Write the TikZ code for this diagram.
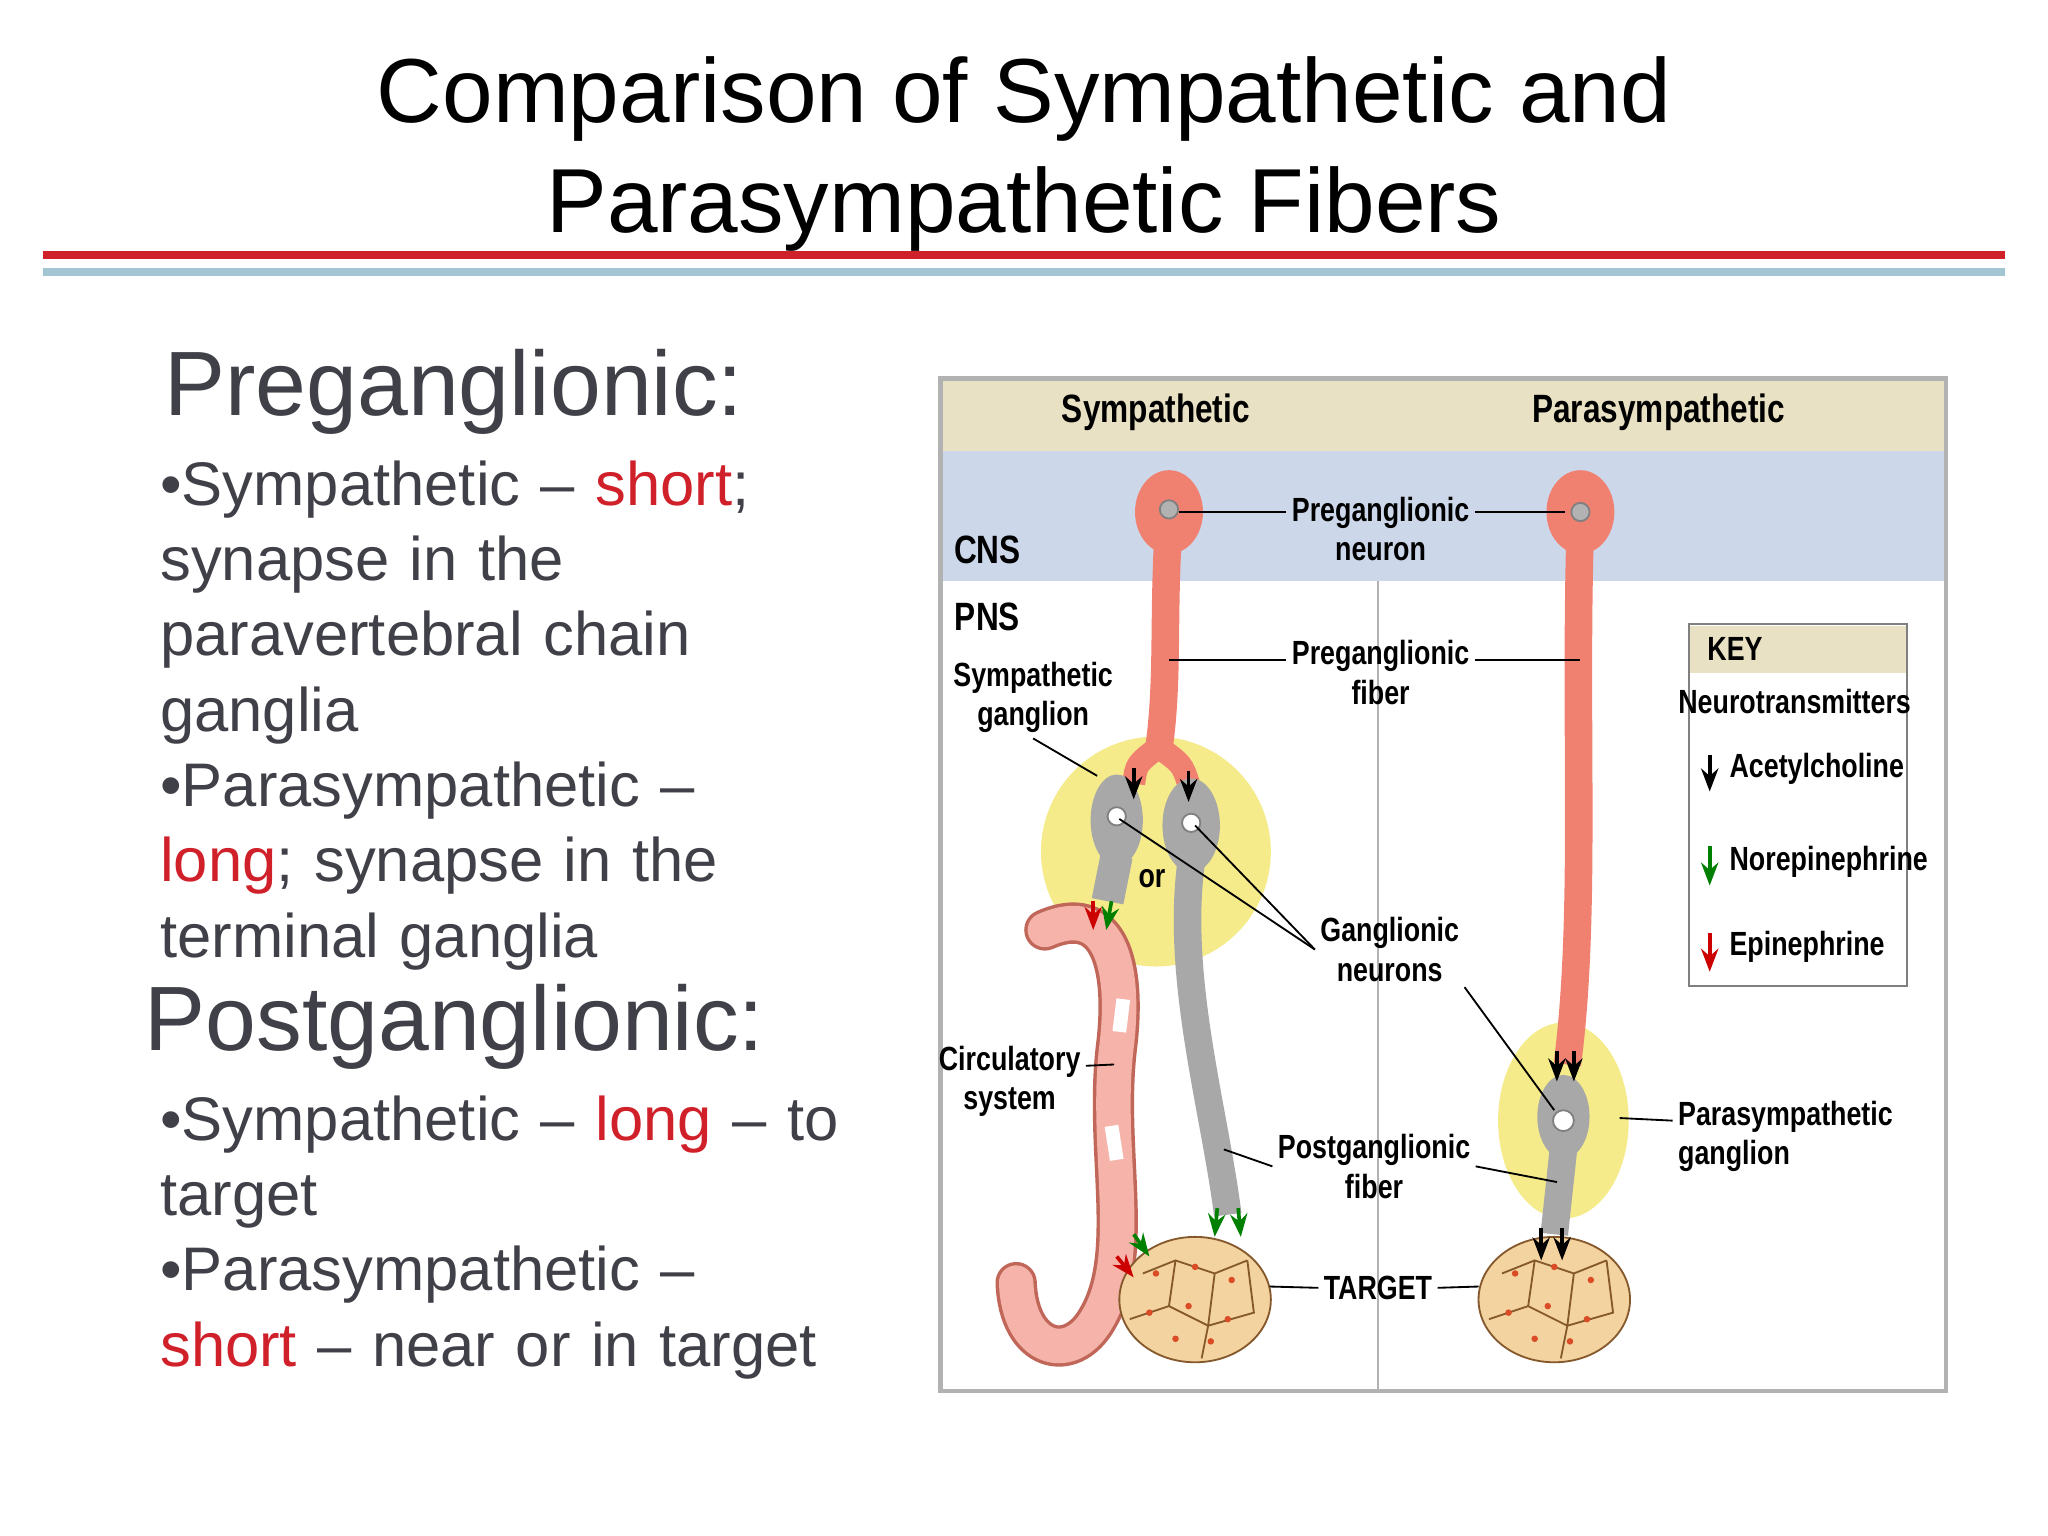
\documentclass[tikz,border=0pt]{standalone}
\usepackage{fontspec}
\setmainfont{Liberation Sans}
\newfontfamily\narrowf{Liberation Sans}[FakeStretch=0.8]
\usetikzlibrary{positioning, arrows.meta}
\definecolor{tan}{HTML}{E9E1C3}
\definecolor{cnsblue}{HTML}{CDD7EA}
\definecolor{nerve}{HTML}{F08070}
\definecolor{gang}{HTML}{F5EB8A}
\definecolor{cellc}{HTML}{F3D3A0}
\definecolor{grayn}{HTML}{A8A8A8}
\definecolor{hired}{HTML}{D0202A}
\definecolor{txtgray}{HTML}{404048}
\tikzset{
  lbl/.style={font=\narrowf\fontsize{7.3}{8.6}\selectfont\bfseries, align=center, inner sep=1pt},
  big/.style={font=\narrowf\fontsize{8.6}{10}\selectfont\bfseries, inner sep=1pt},
  body/.style={font=\fontsize{13.4}{16.4}\selectfont, text=txtgray, anchor=north west, inner sep=0pt},
  head/.style={font=\fontsize{19.9}{23}\selectfont, text=txtgray, anchor=west, inner sep=0pt},
  lead/.style={thin, black},
  tip/.style={-{Stealth[length=5pt]}, line width=0.8pt}
}
\begin{document}
\begin{tikzpicture}[x=0.01cm, y=-0.01cm]
  \useasboundingbox (0,0) rectangle (1568,1176);
  \fill[white] (0,0) rectangle (1568,1176);
  % title
  \node[font=\fontsize{19.8}{24}\selectfont, align=center] (title) at (784,118)
    {Comparison of Sympathetic and\\Parasympathetic Fibers};
  \fill[hired] (33,192) rectangle (1535,198);
  \fill[cyan!40!gray!60] (33,205) rectangle (1535,211);
  % left text
  \node[head] (pre) at (125,300) {Preganglionic:};
  \node[body, text width=5.3cm] (pretxt) at (122,352)
    {\textbullet Sympathetic -- \textcolor{hired}{short};\\synapse in the\\paravertebral chain\\ganglia\\\textbullet Parasympathetic --\\\textcolor{hired}{long}; synapse in the\\terminal ganglia};
  \node[head] (post) at (110,786) {Postganglionic:};
  \node[body, text width=5.3cm] (posttxt) at (122,838)
    {\textbullet Sympathetic -- \textcolor{hired}{long} -- to\\target\\\textbullet Parasympathetic --\\\textcolor{hired}{short} -- near or in target};
  % panel
  \fill[tan] (720,290) rectangle (1490,345);
  \fill[cnsblue] (720,345) rectangle (1490,445);
  \draw[gray!60] (1055,445) -- (1055,1065);
  \draw[gray!60, line width=1pt] (720,290) rectangle (1490,1065);
  \node[big] (symp) at (885,316) {Sympathetic};
  \node[big] (para) at (1270,316) {Parasympathetic};
  \node[big] (cns) at (756,421) {CNS};
  \node[big] (pns) at (756,472) {PNS};
  % ganglia
  \fill[gang] (885,652) circle (88);
  \fill[gang] (1197,858) ellipse (50 and 75);
  % circulatory tube
  \draw[nerve!80!black, line width=9pt, line cap=round] (800,712) .. controls (850,690) and (862,740) .. (855,800)
    .. controls (845,880) and (870,960) .. (840,1010) .. controls (820,1045) and (780,1035) .. (778,982);
  \draw[nerve!60, line width=7.5pt, line cap=round] (800,712) .. controls (850,690) and (862,740) .. (855,800)
    .. controls (845,880) and (870,960) .. (840,1010) .. controls (820,1045) and (780,1035) .. (778,982);
  \draw[white, line width=3pt] (860,765) -- (857,790);
  \draw[white, line width=3pt] (851,862) -- (855,888);
  % targets
  \foreach \cx in {915, 1190}{
    \filldraw[cellc, draw=brown!70!black] (\cx,995) ellipse (58 and 48);
    \draw[brown!70!black, thin] (\cx-40,975) -- (\cx-15,965) -- (\cx+15,975) -- (\cx+40,965)
      (\cx-15,965) -- (\cx-20,1000) -- (\cx+10,1015) -- (\cx+15,975)
      (\cx-20,1000) -- (\cx-50,1010) (\cx+10,1015) -- (\cx+45,1005) -- (\cx+40,965)
      (\cx+10,1015) -- (\cx+5,1040);
    \foreach \dx/\dy in {-30/-20,0/-25,28/-15,-35/10,-5/5,25/15,-15/30,12/32}
      \fill[brown!60!red] (\cx+\dx,995+\dy) circle (2.5);
  }
  \coordinate (tgtS) at (972,985);
  \coordinate (tgtP) at (1132,985);
  % preganglionic neurons
  \draw[nerve, line width=6pt] (895,400) .. controls (890,470) and (895,520) .. (887,575);
  \draw[nerve, line width=5pt] (887,572) .. controls (870,585) .. (868,600);
  \draw[nerve, line width=5pt] (887,572) .. controls (905,585) .. (910,600);
  \draw[nerve, line width=6pt] (1210,400) .. controls (1205,560) and (1215,700) .. (1200,815);
  \fill[nerve] (895,392) ellipse (26 and 32);
  \fill[nerve] (1210,392) ellipse (26 and 32);
  \filldraw[fill=gray!60, draw=gray] (895,390) circle (7);
  \filldraw[fill=gray!60, draw=gray] (1210,392) circle (7);
  % ganglionic neurons
  \fill[grayn] (855,628) ellipse (20 and 35);
  \fill[grayn] (912,632) ellipse (22 and 36);
  \draw[grayn, line width=7pt] (855,655) -- (848,690);
  \draw[grayn, line width=6pt] (912,660) .. controls (900,750) and (930,850) .. (940,930);
  \fill[grayn] (1197,855) ellipse (20 and 32);
  \draw[grayn, line width=6pt] (1197,880) -- (1190,945);
  \filldraw[fill=white, draw=gray] (855,625) circle (7);
  \filldraw[fill=white, draw=gray] (912,630) circle (7);
  \filldraw[fill=white, draw=gray] (1197,858) circle (8);
  \node[lbl] (or) at (882,673) {or};
  % transmitter tips
  \draw[tip] (868,588) -- (868,612);
  \draw[tip] (910,590) -- (910,614);
  \draw[tip] (1192,805) -- (1192,828);
  \draw[tip] (1205,805) -- (1205,828);
  \draw[tip, red!80!black] (837,690) -- (837,712);
  \draw[tip, green!50!black] (851,690) -- (847,712);
  \draw[tip, green!50!black] (932,925) -- (930,947);
  \draw[tip, green!50!black] (948,925) -- (950,947);
  \draw[tip, red!80!black] (855,962) -- (868,978);
  \draw[tip, green!50!black] (868,945) -- (880,962);
  \draw[tip] (1180,940) -- (1180,965);
  \draw[tip] (1196,940) -- (1196,965);
  % labels
  \node[lbl] (preN) at (1057,405) {Preganglionic\\neuron};
  \node[lbl] (preF) at (1057,515) {Preganglionic\\fiber};
  \node[lbl] (sGang) at (791,534) {Sympathetic\\ganglion};
  \node[lbl] (gNeur) at (1064,727) {Ganglionic\\neurons};
  \node[lbl] (circ) at (773,828) {Circulatory\\system};
  \node[lbl] (postF) at (1052,893) {Postganglionic\\fiber};
  \node[lbl] (tgt) at (1055,986) {TARGET};
  \node[lbl, align=left] (pGang) at (1367,870) {Parasympathetic\\ganglion};
  \draw[lead] (preN.west |- 0,392) -- (903,392);
  \draw[lead] (preN.east |- 0,392) -- (1198,392);
  \draw[lead] (preF.west |- 0,505) -- (895,505);
  \draw[lead] (preF.east |- 0,505) -- (1210,505);
  \draw[lead] (sGang.south) -- (840,594);
  \draw[lead] (gNeur.west) -- (857,627);
  \draw[lead] (gNeur.west) -- (915,632);
  \draw[lead] (gNeur.south east) -- (1190,850);
  \draw[lead] (circ.east) ++(0,-12) -- (853,815);
  \draw[lead] (postF.west) -- (937,880);
  \draw[lead] (postF.east) -- (1192,905);
  \draw[lead] (tgt.west) -- (tgtS);
  \draw[lead] (tgt.east) -- (tgtP);
  \draw[lead] (pGang.west) ++(0,-12) -- (1240,856);
  % key
  \draw[gray, fill=white] (1293,478) rectangle (1460,755);
  \fill[tan] (1294,479) rectangle (1459,515);
  \node[lbl, anchor=west] (key) at (1303,497) {KEY};
  \node[lbl] (ntr) at (1374,537) {Neurotransmitters};
  \node[lbl, anchor=west] (ach) at (1320,589) {Acetylcholine};
  \node[lbl, anchor=west] (ne) at (1320,660) {Norepinephrine};
  \node[lbl, anchor=west] (epi) at (1320,725) {Epinephrine};
  \draw[tip] (1309,578) -- (1309,606);
  \draw[tip, green!50!black] (1309,648) -- (1309,678);
  \draw[tip, red!80!black] (1309,714) -- (1309,744);
\end{tikzpicture}
\end{document}
